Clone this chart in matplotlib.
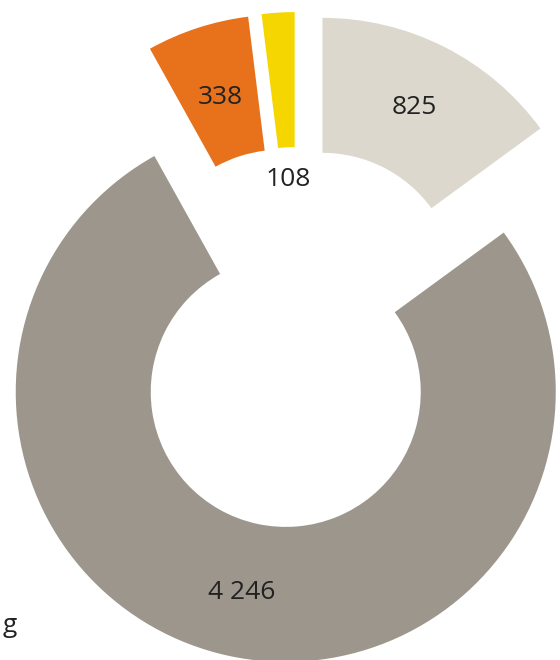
import numpy as np
import matplotlib
matplotlib.use('Agg')
import matplotlib.pyplot as plt

# data (clockwise from 12 o'clock)
categories = ['beige', 'grey', 'orange', 'yellow']
values = [825, 4246, 338, 108]
colors = ['#dcd8cd', '#9c968c', '#e8711c', '#f6d600']

# how far each slice is pulled out, and where its label sits (fraction of radius)
explode = [0.2, 0.212, 0.2, 0.2]
label_pos = [0.75, 0.76, 0.73, 0.38]


def fmt(v):
    return '{:,}'.format(v).replace(',', ' ')


def main():
    plt.rcParams['font.family'] = ['Open Sans', 'DejaVu Sans']
    fig = plt.figure(figsize=(5.6, 6.6), dpi=100)
    ax = fig.add_axes([0, 0, 1, 1])

    wedges, _ = ax.pie(values, colors=colors, explode=explode,
                       startangle=90, counterclock=False, radius=1.0,
                       wedgeprops=dict(width=0.5, linewidth=0))

    for w, v, f in zip(wedges, values, label_pos):
        tm = np.deg2rad((w.theta1 + w.theta2) / 2)
        cx, cy = w.center
        ax.text(cx + f * np.cos(tm), cy + f * np.sin(tm), fmt(v),
                ha='center', va='center', fontsize=19, color='#222222')

    # common centre sits at about (298, 336) px, 270 px per unit
    ax.set_xlim(-298 / 270, (560 - 298) / 270)
    ax.set_ylim(-(660 - 336) / 270, 336 / 270)
    ax.set_aspect('equal')
    ax.axis('off')

    fig.text(0.004, 1 - 632 / 660, 'g', ha='left', va='baseline',
             fontsize=19, color='#222222')

    fig.savefig('out.png', dpi=100, facecolor='white')


if __name__ == '__main__':
    main()
